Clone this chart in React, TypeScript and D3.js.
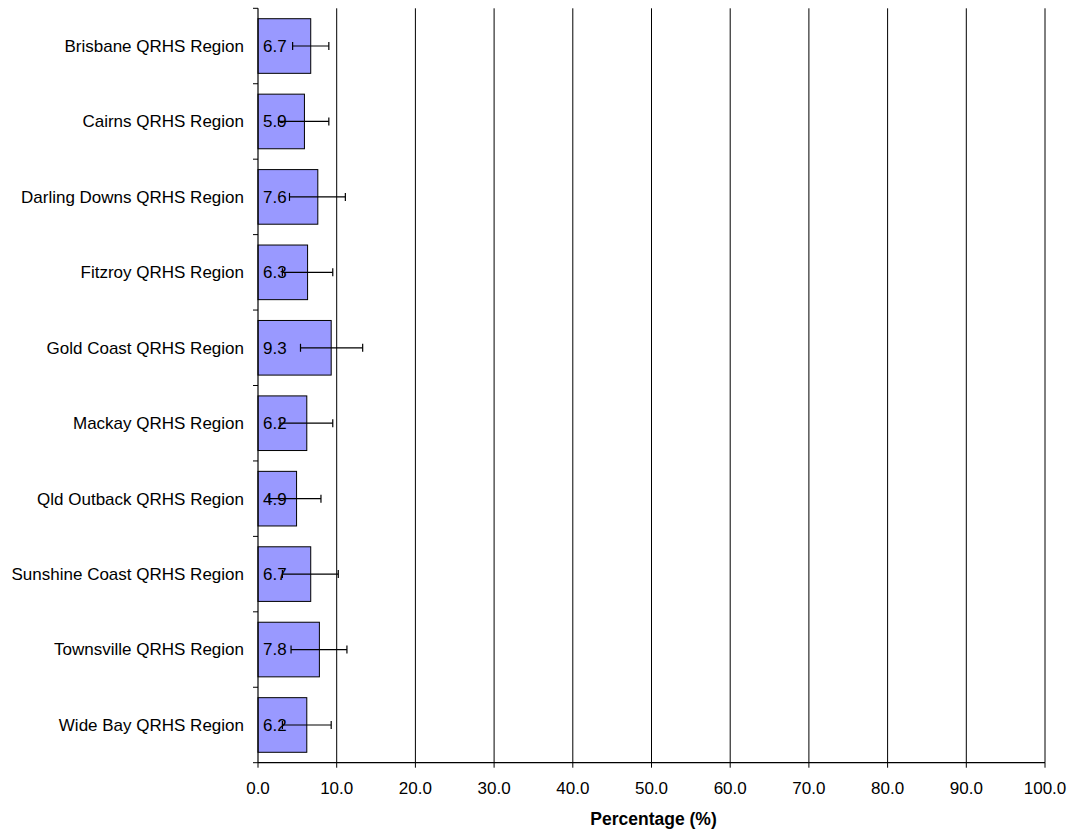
import React from "react";
import * as d3 from "d3";

const categories = [
  "Brisbane QRHS Region",
  "Cairns QRHS Region",
  "Darling Downs QRHS Region",
  "Fitzroy QRHS Region",
  "Gold Coast QRHS Region",
  "Mackay QRHS Region",
  "Qld Outback QRHS Region",
  "Sunshine Coast QRHS Region",
  "Townsville QRHS Region",
  "Wide Bay QRHS Region",
];
const values = [6.7, 5.9, 7.6, 6.3, 9.3, 6.2, 4.9, 6.7, 7.8, 6.2];
const errLow = [4.4, 2.6, 4.0, 3.1, 5.4, 2.8, 1.4, 3.1, 4.2, 3.1];
const errHigh = [9.0, 9.0, 11.1, 9.5, 13.3, 9.5, 8.0, 10.2, 11.3, 9.3];
const xTicks = [0, 10, 20, 30, 40, 50, 60, 70, 80, 90, 100];
const xTitle = "Percentage (%)";

const W = 1070;
const H = 834;
const left = 258;
const right = 1045;
const top = 8.3;
const bottom = 762.7;
const FONT = "'Liberation Sans', Arial, Helvetica, sans-serif";

export default function App() {
  const x = d3.scaleLinear().domain([0, 100]).range([left, right]);
  const y = d3
    .scaleBand<string>()
    .domain(categories)
    .range([top, bottom])
    .paddingInner(0.276)
    .paddingOuter(0.138);
  const step = y.step();
  const boundaries = d3.range(categories.length + 1).map((i) => top + i * step);

  return (
    <svg
      width={W}
      height={H}
      style={{ position: "absolute", left: 0, top: 0, background: "#fff" }}
      fontFamily={FONT}
    >
      {xTicks.slice(1).map((t) => (
        <line
          key={"g" + t}
          x1={x(t)}
          x2={x(t)}
          y1={top}
          y2={bottom}
          stroke="#000"
          strokeWidth={1}
        />
      ))}
      {categories.map((c, i) => (
        <rect
          key={"b" + c}
          x={x(0)}
          y={y(c)}
          width={x(values[i]) - x(0)}
          height={y.bandwidth()}
          fill="#9999FF"
          stroke="#000"
          strokeWidth={1}
        />
      ))}
      {categories.map((c, i) => (
        <text
          key={"v" + c}
          x={x(0) + 5}
          y={(y(c) as number) + y.bandwidth() / 2}
          dy="0.35em"
          fontSize={17}
          fill="#000"
        >
          {values[i].toFixed(1)}
        </text>
      ))}
      {categories.map((c, i) => {
        const cy = (y(c) as number) + y.bandwidth() / 2;
        return (
          <g key={"e" + c} stroke="#000" strokeWidth={1.2}>
            <line x1={x(errLow[i])} x2={x(errHigh[i])} y1={cy} y2={cy} />
            <line x1={x(errLow[i])} x2={x(errLow[i])} y1={cy - 4} y2={cy + 4} />
            <line x1={x(errHigh[i])} x2={x(errHigh[i])} y1={cy - 4} y2={cy + 4} />
          </g>
        );
      })}
      <line x1={left} x2={left} y1={top} y2={bottom} stroke="#000" strokeWidth={1.2} />
      {boundaries.map((b, i) => (
        <line key={"yt" + i} x1={left - 5} x2={left} y1={b} y2={b} stroke="#000" strokeWidth={1} />
      ))}
      {categories.map((c) => (
        <text
          key={"c" + c}
          x={left - 14}
          y={(y(c) as number) + y.bandwidth() / 2}
          dy="0.35em"
          textAnchor="end"
          fontSize={17}
          fill="#000"
        >
          {c}
        </text>
      ))}
      <line x1={left} x2={right} y1={bottom} y2={bottom} stroke="#000" strokeWidth={1.2} />
      {xTicks.map((t) => (
        <g key={"xt" + t}>
          <line x1={x(t)} x2={x(t)} y1={bottom} y2={bottom + 5} stroke="#000" strokeWidth={1} />
          <text x={x(t)} y={bottom + 31} textAnchor="middle" fontSize={17} fill="#000">
            {t.toFixed(1)}
          </text>
        </g>
      ))}
      <text
        x={(left + right) / 2 + 2}
        y={825}
        textAnchor="middle"
        fontSize={17.5}
        fontWeight="bold"
        fill="#000"
      >
        {xTitle}
      </text>
    </svg>
  );
}
